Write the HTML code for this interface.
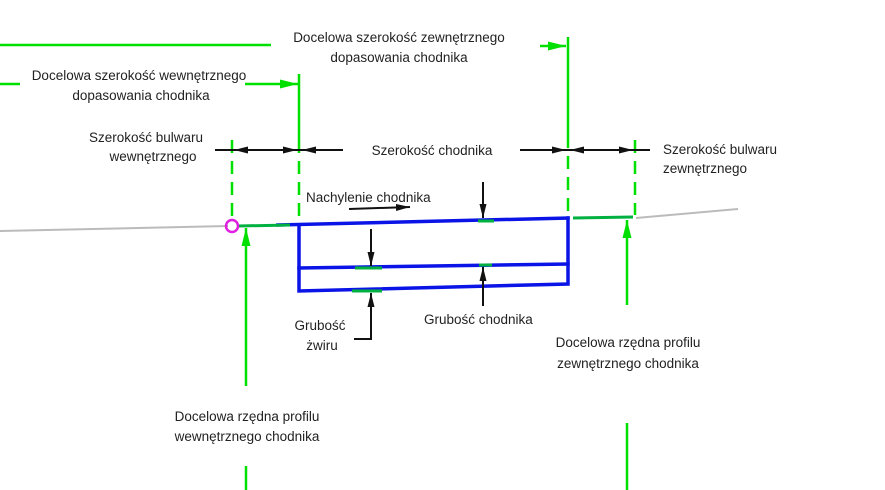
<!DOCTYPE html>
<html><head><meta charset="utf-8"><style>
html,body{margin:0;padding:0;background:#fff;}
svg{display:block;}
text{font-family:"Liberation Sans",sans-serif;font-size:13.5px;fill:#222;}
</style></head><body>
<svg width="885" height="490" viewBox="0 0 885 490" xmlns="http://www.w3.org/2000/svg">
<defs>
<marker id="bk" viewBox="0 0 14 8" refX="14" refY="4" markerWidth="14" markerHeight="8" markerUnits="userSpaceOnUse" orient="auto"><path d="M0,0.5 L14,4 L0,7.5 z" fill="#111"/></marker>
<marker id="gr" viewBox="0 0 18 10" refX="18" refY="5" markerWidth="18" markerHeight="10" markerUnits="userSpaceOnUse" orient="auto"><path d="M0,0.5 L18,5 L0,9.5 z" fill="#00e000"/></marker>
</defs>
<line x1="0" y1="231" x2="228" y2="226" stroke="#bbb" stroke-width="2"/>
<line x1="636" y1="218" x2="738" y2="209" stroke="#bbb" stroke-width="2"/>
<line x1="0" y1="45" x2="271" y2="45" stroke="#00e000" stroke-width="2.5"/>
<line x1="540" y1="46" x2="566" y2="46" stroke="#00e000" stroke-width="2.5" marker-end="url(#gr)"/>
<line x1="0" y1="84" x2="20" y2="84" stroke="#00e000" stroke-width="2.5"/>
<line x1="245" y1="84" x2="298" y2="84" stroke="#00e000" stroke-width="2.5" marker-end="url(#gr)"/>
<line x1="299" y1="74" x2="299" y2="140" stroke="#00e000" stroke-width="2.5"/>
<line x1="299" y1="140" x2="299" y2="222" stroke="#00e000" stroke-width="2.5" stroke-dasharray="13,8"/>
<line x1="568" y1="37" x2="568" y2="135" stroke="#00e000" stroke-width="2.5"/>
<line x1="568" y1="135" x2="568" y2="216" stroke="#00e000" stroke-width="2.5" stroke-dasharray="13,8"/>
<line x1="232" y1="140" x2="232" y2="220" stroke="#00e000" stroke-width="2.5" stroke-dasharray="13,8"/>
<line x1="635" y1="140" x2="635" y2="215" stroke="#00e000" stroke-width="2.5" stroke-dasharray="13,8"/>
<line x1="215" y1="150" x2="343" y2="150" stroke="#111" stroke-width="2"/>
<line x1="520" y1="150" x2="650" y2="150" stroke="#111" stroke-width="2"/>
<line x1="262" y1="150" x2="234" y2="150" stroke="#111" stroke-width="2" marker-end="url(#bk)"/>
<line x1="270" y1="150" x2="297" y2="150" stroke="#111" stroke-width="2" marker-end="url(#bk)"/>
<line x1="325" y1="150" x2="302" y2="150" stroke="#111" stroke-width="2" marker-end="url(#bk)"/>
<line x1="545" y1="150" x2="566" y2="150" stroke="#111" stroke-width="2" marker-end="url(#bk)"/>
<line x1="595" y1="150" x2="570" y2="150" stroke="#111" stroke-width="2" marker-end="url(#bk)"/>
<line x1="610" y1="150" x2="633" y2="150" stroke="#111" stroke-width="2" marker-end="url(#bk)"/>
<g stroke="#0a14e6" stroke-width="3.5" fill="none" stroke-linecap="square">
<line x1="278" y1="225" x2="568" y2="218"/>
<polyline points="299,226 299,291 568,284 568,218"/>
<line x1="299" y1="268" x2="568" y2="264"/>
</g>
<g stroke="#00b040" stroke-width="3">
<line x1="238" y1="226" x2="290" y2="225"/>
<line x1="573" y1="218" x2="633" y2="217"/>
<line x1="478" y1="221" x2="494" y2="221"/>
<line x1="355" y1="268" x2="382" y2="268"/>
<line x1="479" y1="265" x2="492" y2="265"/>
<line x1="352" y1="291" x2="382" y2="291"/>
</g>
<circle cx="232" cy="226" r="6" fill="none" stroke="#e020e0" stroke-width="2.5"/>
<line x1="246" y1="386" x2="246" y2="228" stroke="#00e000" stroke-width="2.5" marker-end="url(#gr)"/>
<line x1="246" y1="466" x2="246" y2="490" stroke="#00e000" stroke-width="2.5"/>
<line x1="627" y1="305" x2="627" y2="220" stroke="#00e000" stroke-width="2.5" marker-end="url(#gr)"/>
<line x1="627" y1="423" x2="627" y2="490" stroke="#00e000" stroke-width="2.5"/>
<line x1="483" y1="182" x2="483" y2="218" stroke="#111" stroke-width="2" marker-end="url(#bk)"/>
<line x1="371" y1="229" x2="371" y2="266" stroke="#111" stroke-width="2" marker-end="url(#bk)"/>
<line x1="483" y1="306" x2="483" y2="267" stroke="#111" stroke-width="2" marker-end="url(#bk)"/>
<polyline points="354,339 371,339 371,293" fill="none" stroke="#111" stroke-width="2" marker-end="url(#bk)"/>
<line x1="349" y1="209" x2="410" y2="207" stroke="#111" stroke-width="2" marker-end="url(#bk)"/>
<text x="399" y="42" text-anchor="middle">Docelowa szerokość zewnętrznego</text>
<text x="399" y="62" text-anchor="middle">dopasowania chodnika</text>
<text x="139" y="80" text-anchor="middle">Docelowa szerokość wewnętrznego</text>
<text x="141" y="100" text-anchor="middle">dopasowania chodnika</text>
<text x="146" y="142" text-anchor="middle">Szerokość bulwaru</text>
<text x="153" y="161" text-anchor="middle">wewnętrznego</text>
<text x="432" y="155" text-anchor="middle">Szerokość chodnika</text>
<text x="663" y="154">Szerokość bulwaru</text>
<text x="663" y="173">zewnętrznego</text>
<text x="306" y="202">Nachylenie chodnika</text>
<text x="424" y="324">Grubość chodnika</text>
<text x="320" y="330" text-anchor="middle">Grubość</text>
<text x="322" y="350" text-anchor="middle">żwiru</text>
<text x="628" y="347" text-anchor="middle">Docelowa rzędna profilu</text>
<text x="628" y="368" text-anchor="middle">zewnętrznego chodnika</text>
<text x="247" y="421" text-anchor="middle">Docelowa rzędna profilu</text>
<text x="247" y="441" text-anchor="middle">wewnętrznego chodnika</text>
</svg>
</body></html>
